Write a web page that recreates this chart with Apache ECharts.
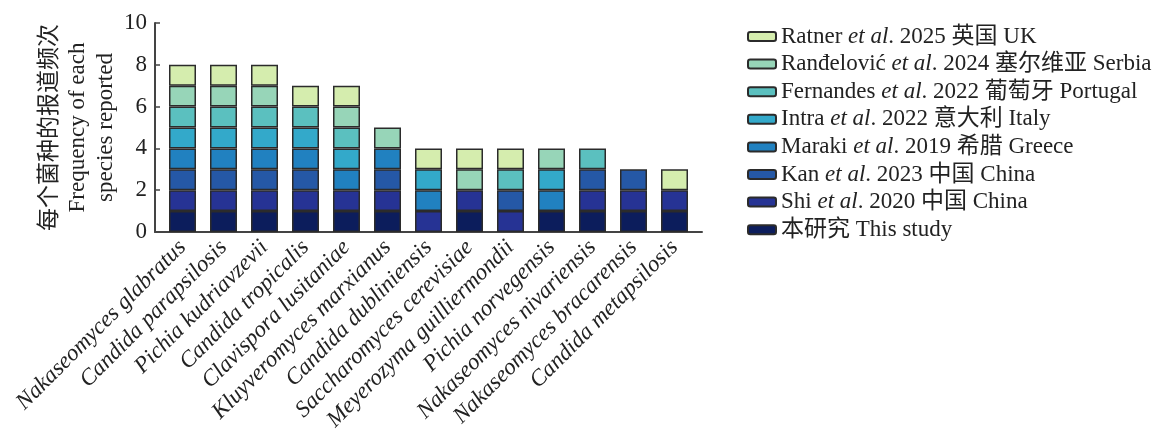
<!DOCTYPE html>
<html><head><meta charset="utf-8">
<script src="https://cdn.jsdelivr.net/npm/echarts@6/dist/echarts.min.js"></script>
<style>html,body{margin:0;padding:0;background:#fff}#c{width:1168px;height:435px}</style>
</head><body><div id="c"></div>
<script>
const categories = ['Nakaseomyces glabratus','Candida parapsilosis','Pichia kudriavzevii','Candida tropicalis','Clavispora lusitaniae','Kluyveromyces marxianus','Candida dubliniensis','Saccharomyces cerevisiae','Meyerozyma guilliermondii','Pichia norvegensis','Nakaseomyces nivariensis','Nakaseomyces bracarensis','Candida metapsilosis'];
const thisStudy  = [1,1,1,1,1,1,0,1,0,1,1,1,1];
const shi2020    = [1,1,1,1,1,1,1,1,1,0,1,1,1];
const kan2023    = [1,1,1,1,0,1,0,0,1,0,1,1,0];
const maraki2019 = [1,1,1,1,1,1,1,0,0,1,0,0,0];
const intra2022  = [1,1,1,1,1,0,1,0,0,1,0,0,0];
const fernandes2022 = [1,1,1,1,1,0,0,0,1,0,1,0,0];
const randelovic2024 = [1,1,1,0,1,1,0,1,0,1,0,0,0];
const ratner2025 = [1,1,1,1,1,0,1,1,1,0,0,0,1];
const seriesNames = ['本研究 This study','Shi et al. 2020 中国 China','Kan et al. 2023 中国 China','Maraki et al. 2019 希腊 Greece','Intra et al. 2022 意大利 Italy','Fernandes et al. 2022 葡萄牙 Portugal','Ranđelović et al. 2024 塞尔维亚 Serbia','Ratner et al. 2025 英国 UK'];
const seriesValues = [thisStudy, shi2020, kan2023, maraki2019, intra2022, fernandes2022, randelovic2024, ratner2025];
const colors = ['#0c1d5c','#263394','#2558a6','#2181c0','#33a9ca','#5bc0bf','#97d5b8','#d5edae'];
const yTicks = [0,2,4,6,8,10];

const FONT = "'Liberation Serif','Noto Sans CJK SC',serif";
const chart = echarts.init(document.getElementById('c'));
const series = seriesNames.map((n,i)=>({
  name:n, type:'bar', stack:'s', barWidth:27, xAxisIndex:0, yAxisIndex:0,
  itemStyle:{color:colors[i], borderColor:'#2b2b2b', borderWidth:1.5},
  data: seriesValues[i].map(v=> v ? v : null)
}));
chart.setOption({
  animation:false,
  backgroundColor:'#fff',
  textStyle:{fontFamily:FONT},
  grid:[
    {left:162, right:473, top:23, bottom:203, containLabel:false},
    {left:155, right:466, top:23, bottom:203, containLabel:false}
  ],
  legend:{
    orient:'vertical', left:742, top:20,
    itemWidth:28, itemHeight:9, itemGap:4.6,
    data: seriesNames.slice().reverse(),
    textStyle:{fontFamily:FONT, fontSize:23, color:'#222',
      rich:{n:{fontFamily:FONT,fontSize:23,color:'#222'}, i:{fontFamily:FONT,fontSize:23,fontStyle:'italic',color:'#222'}}},
    formatter:function(name){
      const k = name.indexOf('et al');
      if (k<0) return '{n|'+name+'}';
      return '{n|'+name.slice(0,k)+'}{i|et al}{n|'+name.slice(k+5)+'}';
    }
  },
  xAxis:[
    {type:'category', gridIndex:0, data:categories,
     axisLine:{show:false},
     axisTick:{show:true, inside:true, alignWithLabel:true, length:4, lineStyle:{color:'#555'}},
     axisLabel:{rotate:45, margin:12, interval:0, fontFamily:FONT, fontSize:23, fontStyle:'italic', color:'#222'}},
    {type:'value', gridIndex:1, min:0, max:1,
     axisLine:{show:true, onZero:false, lineStyle:{color:'#444', width:2}},
     axisTick:{show:false}, axisLabel:{show:false}, splitLine:{show:false}}
  ],
  yAxis:[
    {type:'value', gridIndex:0, min:0, max:10, interval:2, offset:7,
     axisLine:{show:true, lineStyle:{color:'#444', width:2}},
     axisTick:{show:true, inside:true, length:5, lineStyle:{color:'#444', width:1.5}},
     axisLabel:{fontFamily:FONT, fontSize:23, color:'#222', margin:8},
     splitLine:{show:false},
     name:'每个菌种的报道频次\nFrequency of each\nspecies reported',
     nameLocation:'middle', nameGap:32,
     nameTextStyle:{fontFamily:FONT, fontSize:23, color:'#222', lineHeight:28, align:'center'}},
    {type:'value', gridIndex:1, show:false, min:0, max:1}
  ],
  series: series
});
</script></body></html>
